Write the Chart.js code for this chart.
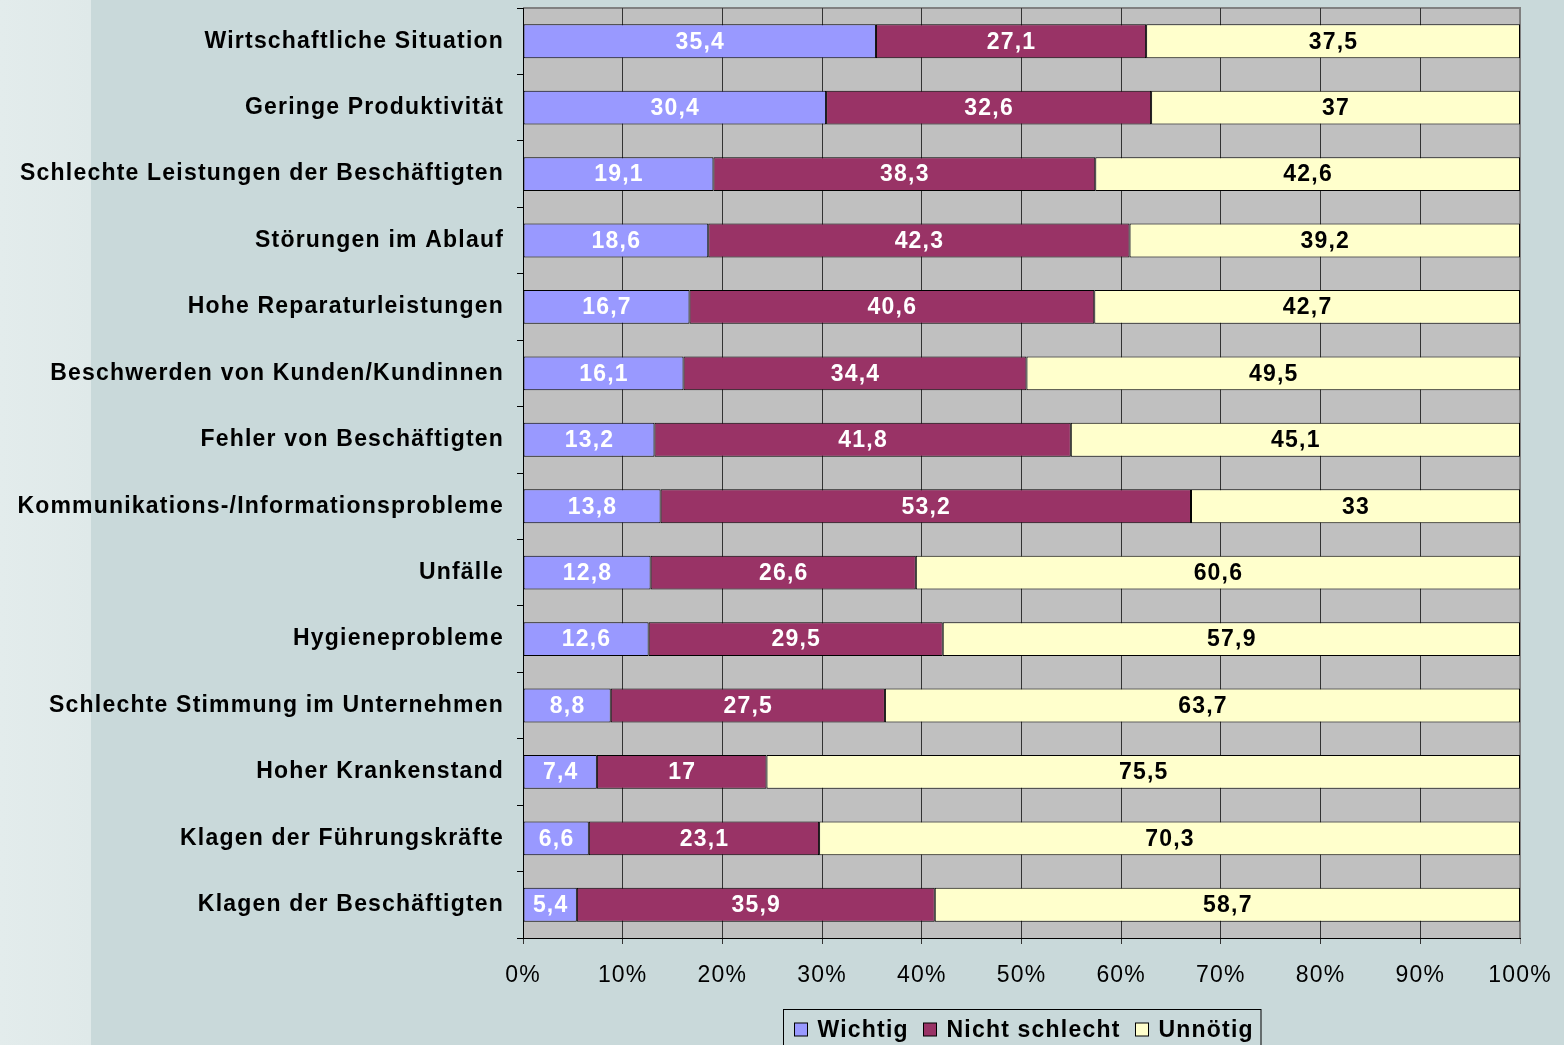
<!DOCTYPE html>
<html>
<head>
<meta charset="utf-8">
<script src="https://cdn.jsdelivr.net/npm/chart.js@4/dist/chart.umd.min.js"></script>
<style>
  html, body { margin: 0; padding: 0; }
  body {
    width: 1564px; height: 1045px; overflow: hidden;
    background: linear-gradient(to right, #e3ecec 0px, #dfe9e9 91px, #c9d9da 91px, #c9d9da 100%);
  }
  canvas { display: block; }
</style>
</head>
<body>
<canvas id="barChart" width="1564" height="1045"></canvas>
<script>
const categories = [
  'Wirtschaftliche Situation',
  'Geringe Produktivität',
  'Schlechte Leistungen der Beschäftigten',
  'Störungen im Ablauf',
  'Hohe Reparaturleistungen',
  'Beschwerden von Kunden/Kundinnen',
  'Fehler von Beschäftigten',
  'Kommunikations-/Informationsprobleme',
  'Unfälle',
  'Hygieneprobleme',
  'Schlechte Stimmung im Unternehmen',
  'Hoher Krankenstand',
  'Klagen der Führungskräfte',
  'Klagen der Beschäftigten'
];
const wichtig = [35.4, 30.4, 19.1, 18.6, 16.7, 16.1, 13.2, 13.8, 12.8, 12.6, 8.8, 7.4, 6.6, 5.4];
const nichtSchlecht = [27.1, 32.6, 38.3, 42.3, 40.6, 34.4, 41.8, 53.2, 26.6, 29.5, 27.5, 17, 23.1, 35.9];
const unnoetig = [37.5, 37, 42.6, 39.2, 42.7, 49.5, 45.1, 33, 60.6, 57.9, 63.7, 75.5, 70.3, 58.7];
const seriesNames = ['Wichtig', 'Nicht schlecht', 'Unnötig'];
const xTicks = [0, 10, 20, 30, 40, 50, 60, 70, 80, 90, 100];

const FONT = 'Liberation Sans, Arial, sans-serif';
const SPACING = '1.2px';

// 100% stacked: each row scaled to its own total
const rowTotals = categories.map((c, i) => wichtig[i] + nichtSchlecht[i] + unnoetig[i]);
const toShare = arr => arr.map((v, i) => v / rowTotals[i] * 100);

const rawSeries = [wichtig, nichtSchlecht, unnoetig];
const colors = ['#9999ff', '#993366', '#ffffcc'];
const labelColors = ['#ffffff', '#ffffff', '#000000'];

const spacing = {
  id: 'spacing',
  beforeUpdate(chart) { chart.ctx.letterSpacing = SPACING; },
  beforeDraw(chart) { chart.ctx.letterSpacing = SPACING; }
};

const plotBackground = {
  id: 'plotBackground',
  beforeDraw(chart) {
    const { ctx, chartArea: a } = chart;
    ctx.save();
    ctx.fillStyle = '#c0c0c0';
    ctx.fillRect(a.left, a.top, a.right - a.left, a.bottom - a.top);
    ctx.strokeStyle = '#808080';
    ctx.lineWidth = 2;
    ctx.beginPath();
    ctx.moveTo(a.left, a.top);
    ctx.lineTo(a.right, a.top);
    ctx.lineTo(a.right, a.bottom);
    ctx.stroke();
    ctx.restore();
  }
};

const valueLabels = {
  id: 'valueLabels',
  afterDatasetsDraw(chart) {
    const ctx = chart.ctx;
    ctx.save();
    ctx.letterSpacing = SPACING;
    ctx.font = 'bold 23px ' + FONT;
    ctx.textAlign = 'center';
    ctx.textBaseline = 'middle';
    chart.data.datasets.forEach((ds, di) => {
      const meta = chart.getDatasetMeta(di);
      meta.data.forEach((bar, i) => {
        const txt = String(rawSeries[di][i]).replace('.', ',');
        ctx.fillStyle = labelColors[di];
        ctx.fillText(txt, (bar.x + bar.base) / 2 + 0.5, bar.y + 1);
      });
    });
    ctx.restore();
  }
};

const boxLegend = {
  id: 'boxLegend',
  afterDraw(chart) {
    const { ctx, chartArea: a } = chart;
    ctx.save();
    ctx.letterSpacing = SPACING;
    ctx.font = 'bold 23px ' + FONT;
    const sq = 13, gap = 10, itemGap = 14, padX = 10;
    const items = chart.data.datasets.map(ds => ({
      label: ds.label, color: ds.backgroundColor, w: ctx.measureText(ds.label).width
    }));
    let total = padX * 2;
    items.forEach((it, i) => { total += sq + gap + it.w + (i < items.length - 1 ? itemGap : 0); });
    const cx = (a.left + a.right) / 2;
    const left = Math.round(cx - total / 2) + 0.5;
    const top = 1009.5;
    ctx.strokeStyle = '#000';
    ctx.lineWidth = 1;
    ctx.strokeRect(left, top, total, 60);
    let x = Math.round(left + padX) + 0.5;
    const cy = 1030;
    ctx.textBaseline = 'middle';
    ctx.textAlign = 'left';
    items.forEach(it => {
      ctx.fillStyle = it.color;
      ctx.fillRect(x, cy - 7, sq, sq);
      ctx.strokeRect(x, cy - 7, sq, sq);
      ctx.fillStyle = '#000';
      ctx.fillText(it.label, x + sq + gap, cy + 1);
      x = Math.round(x + sq + gap + it.w + itemGap) + 0.5;
    });
    ctx.restore();
  }
};

const ctx = document.getElementById('barChart').getContext('2d');
new Chart(ctx, {
  type: 'bar',
  data: {
    labels: categories,
    datasets: rawSeries.map((arr, i) => ({
      label: seriesNames[i],
      data: toShare(arr),
      backgroundColor: colors[i],
      borderColor: '#000000',
      borderWidth: 1,
      borderSkipped: false,
      barPercentage: 0.51,
      categoryPercentage: 1.0
    }))
  },
  options: {
    indexAxis: 'y',
    responsive: false,
    devicePixelRatio: 1,
    animation: false,
    layout: { padding: { top: 8, right: 44, left: 0, bottom: 0 } },
    scales: {
      x: {
        stacked: true,
        min: 0,
        max: 100,
        afterBuildTicks(scale) { scale.ticks = xTicks.map(v => ({ value: v })); },
        afterFit(scale) {
          scale.height = 107;
          scale.paddingLeft = 0;
          scale.paddingRight = 0;
        },
        ticks: {
          callback: v => v + '%',
          color: '#000',
          padding: 18,
          maxRotation: 0,
          font: { family: FONT, size: 23 }
        },
        grid: {
          color: c => (c.index === xTicks.length - 1 ? '#808080' : '#333333'),
          lineWidth: 1,
          tickLength: 6,
          drawOnChartArea: true
        },
        border: { color: '#000', width: 1 }
      },
      y: {
        stacked: true,
        afterFit(scale) {
          scale.width = 523;
          scale.paddingTop = 0;
          scale.paddingBottom = 0;
        },
        ticks: {
          color: '#000',
          padding: 13,
          font: { family: FONT, size: 23, weight: 'bold' }
        },
        grid: {
          drawOnChartArea: false,
          offset: true,
          color: '#000',
          tickLength: 6
        },
        border: { color: '#000', width: 1 }
      }
    },
    plugins: {
      legend: { display: false },
      tooltip: { enabled: false },
      title: { display: false }
    }
  },
  plugins: [spacing, plotBackground, valueLabels, boxLegend]
});
</script>
</body>
</html>
